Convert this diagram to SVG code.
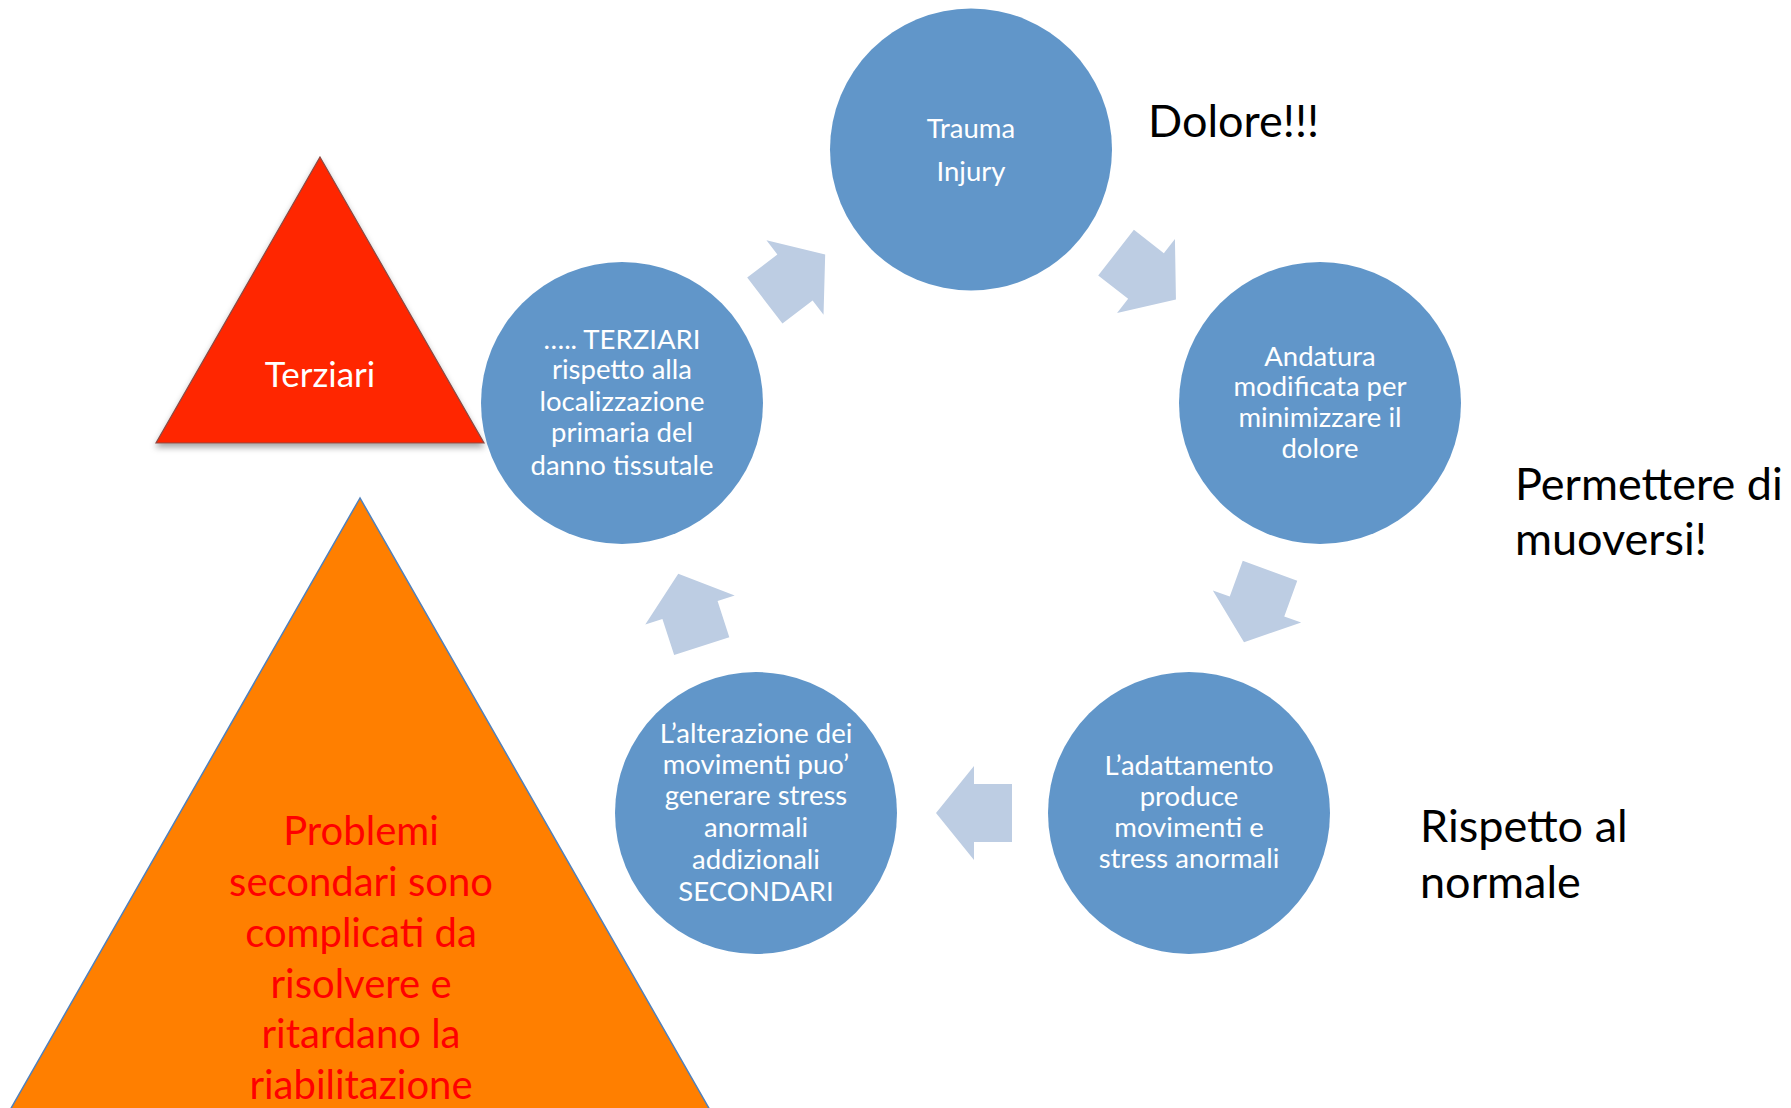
<svg xmlns="http://www.w3.org/2000/svg" width="1791" height="1108" viewBox="0 0 1791 1108">
<style>
.node{fill:#6196C9;}
.arrow{fill:#BDCDE3;}
.ct{font-family:Lato,"Open Sans",sans-serif;font-size:27.5px;fill:#FFFFFF;text-anchor:middle;}
.side{font-family:Lato,"Open Sans",sans-serif;font-size:45px;fill:#000000;}
.tri{font-family:Lato,"Open Sans",sans-serif;}
</style>
<defs>
<path id="arr" d="M-38,-29 L0,-29 L0,-47 L38,0 L0,47 L0,29 L-38,29 Z"/>
<filter id="sh" x="-10%" y="-10%" width="120%" height="130%">
<feDropShadow dx="0" dy="4" stdDeviation="3" flood-color="#000" flood-opacity="0.35"/>
</filter>
</defs>
<rect width="1791" height="1108" fill="#FFFFFF"/>

<g id="tri-secondari">
<polygon points="360,498 -30,1180 750,1180" fill="#FF7F00" stroke="#4F81BD" stroke-width="1.5"/>
<text class="tri" font-size="40" fill="#FF0000" text-anchor="middle"><tspan x="361" y="845">Problemi</tspan><tspan x="361" y="896">secondari sono</tspan><tspan x="361" y="947">complicati da</tspan><tspan x="361" y="998">risolvere e</tspan><tspan x="361" y="1048">ritardano la</tspan><tspan x="361" y="1099">riabilitazione</tspan></text>
</g>

<g id="tri-terziari">
<polygon points="320,157 484,443 156,443" fill="#FF2600" stroke="#8A4A44" stroke-width="1.2" filter="url(#sh)"/>
<text class="tri" x="320" y="387" font-size="35" fill="#FFFFFF" text-anchor="middle">Terziari</text>
</g>

<g id="connectors">
<use href="#arr" class="arrow" transform="translate(1146,276) rotate(38)"/>
<use href="#arr" class="arrow" transform="translate(1257,606.5) rotate(110)"/>
<use href="#arr" class="arrow" transform="translate(974,813) rotate(180)"/>
<use href="#arr" class="arrow" transform="translate(690,610) rotate(252)"/>
<use href="#arr" class="arrow" transform="translate(795,277.5) rotate(-37.4)"/>
</g>

<g id="n-trauma">
<circle class="node" cx="971" cy="149.5" r="141"/>
<text class="ct"><tspan x="971" y="138">Trauma</tspan><tspan x="971" y="181">Injury</tspan></text>
</g>

<g id="n-andatura">
<circle class="node" cx="1320" cy="403" r="141"/>
<text class="ct"><tspan x="1320" y="366">Andatura</tspan><tspan x="1320" y="396">modificata per</tspan><tspan x="1320" y="427">minimizzare il</tspan><tspan x="1320" y="458">dolore</tspan></text>
</g>

<g id="n-adattamento">
<circle class="node" cx="1189" cy="813" r="141"/>
<text class="ct"><tspan x="1189" y="775">L’adattamento</tspan><tspan x="1189" y="806">produce</tspan><tspan x="1189" y="837">movimenti e</tspan><tspan x="1189" y="868">stress anormali</tspan></text>
</g>

<g id="n-alterazione">
<circle class="node" cx="756" cy="813" r="141"/>
<text class="ct"><tspan x="756" y="743">L’alterazione dei</tspan><tspan x="756" y="774">movimenti puo’</tspan><tspan x="756" y="805">generare stress</tspan><tspan x="756" y="837">anormali</tspan><tspan x="756" y="869">addizionali</tspan><tspan x="756" y="901">SECONDARI</tspan></text>
</g>

<g id="n-terziari">
<circle class="node" cx="622" cy="403" r="141"/>
<text class="ct"><tspan x="622" y="349">….. TERZIARI</tspan><tspan x="622" y="379">rispetto alla</tspan><tspan x="622" y="411">localizzazione</tspan><tspan x="622" y="442">primaria del</tspan><tspan x="622" y="475">danno tissutale</tspan></text>
</g>

<g id="labels">
<text class="side" x="1148" y="137">Dolore!!!</text>
<text class="side" x="1515" y="500">Permettere di</text>
<text class="side" x="1515" y="555">muoversi!</text>
<text class="side" x="1420" y="842">Rispetto al</text>
<text class="side" x="1420" y="898">normale</text>
</g>
</svg>
